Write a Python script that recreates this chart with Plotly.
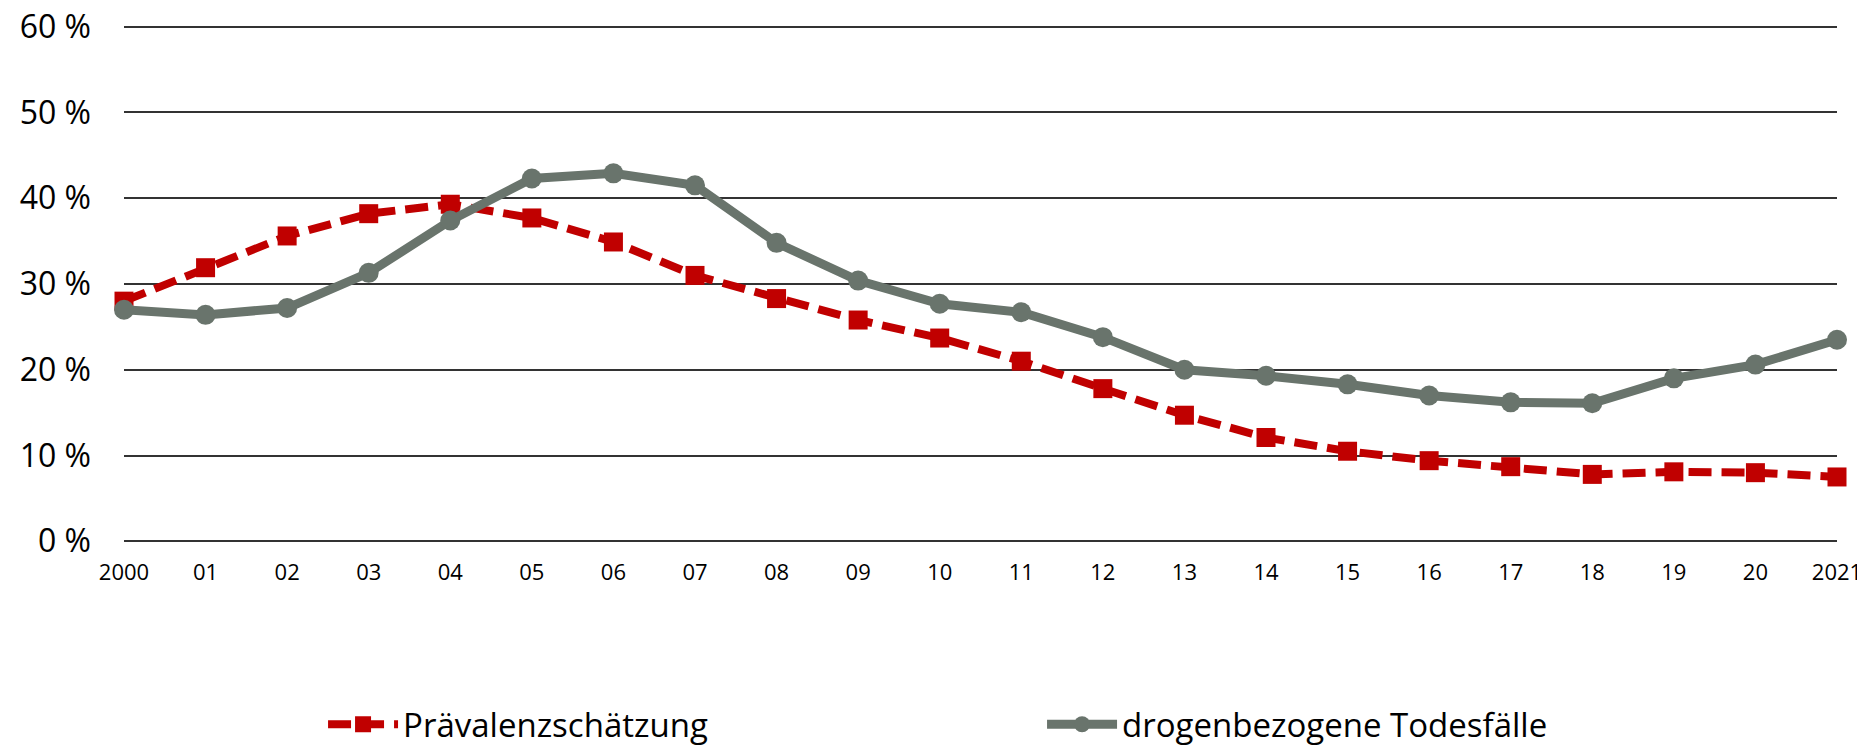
import plotly.graph_objects as go

years = list(range(2000, 2022))
tick_labels = ["2000", "01", "02", "03", "04", "05", "06", "07", "08", "09", "10",
               "11", "12", "13", "14", "15", "16", "17", "18", "19", "20", "2021"]
praevalenz = [28.0, 31.9, 35.6, 38.2, 39.3, 37.7, 34.9, 31.0, 28.3, 25.8, 23.7,
              21.0, 17.8, 14.7, 12.1, 10.5, 9.4, 8.7, 7.8, 8.1, 8.0, 7.5]
todesfaelle = [27.0, 26.4, 27.2, 31.3, 37.4, 42.3, 42.9, 41.5, 34.8, 30.4, 27.7,
               26.7, 23.8, 20.0, 19.3, 18.3, 17.0, 16.2, 16.1, 19.0, 20.6, 23.5]
y_ticks = [0, 10, 20, 30, 40, 50, 60]
y_tick_labels = ["0 %", "10 %", "20 %", "30 %", "40 %", "50 %", "60 %"]

RED = "#C00000"
GREY = "#69746C"
FONT = "Open Sans"

fig = go.Figure()
fig.add_trace(go.Scatter(
    x=years, y=praevalenz, name="Prävalenzschätzung", mode="lines+markers",
    line=dict(color=RED, width=8, dash="23px,10px"),
    marker=dict(symbol="square", size=19, color=RED),
    cliponaxis=False,
))
fig.add_trace(go.Scatter(
    x=years, y=todesfaelle, name="drogenbezogene Todesfälle", mode="lines+markers",
    line=dict(color=GREY, width=9),
    marker=dict(symbol="circle", size=20, color=GREY),
    cliponaxis=False,
))

fig.update_layout(
    width=1865, height=746,
    margin=dict(l=116, r=36, t=17.3, b=210.8, autoexpand=False),
    paper_bgcolor="white", plot_bgcolor="white",
    font=dict(family=FONT, color="#000000"),
    showlegend=True,
    legend=dict(
        orientation="h", x=0.1162, xanchor="left", y=-0.350, yanchor="middle",
        font=dict(size=33, family=FONT), entrywidth=634, itemwidth=70,
        traceorder="normal",
    ),
    xaxis=dict(
        range=[2000, 2021], tickvals=years, ticktext=tick_labels,
        showgrid=False, zeroline=False, showline=False, automargin=False,
        tickfont=dict(size=22, family=FONT), ticks="", ticklabelstandoff=14,
    ),
    yaxis=dict(
        range=[-0.2, 60.2], tickvals=y_ticks, ticktext=y_tick_labels,
        showgrid=True, gridcolor="#333333", gridwidth=1.8,
        zeroline=False, showline=False, automargin=False,
        tickfont=dict(size=32, family=FONT), ticks="", ticklabelstandoff=32,
        ticklabeloverflow="allow",
    ),
)

fig.write_html("out.html")
